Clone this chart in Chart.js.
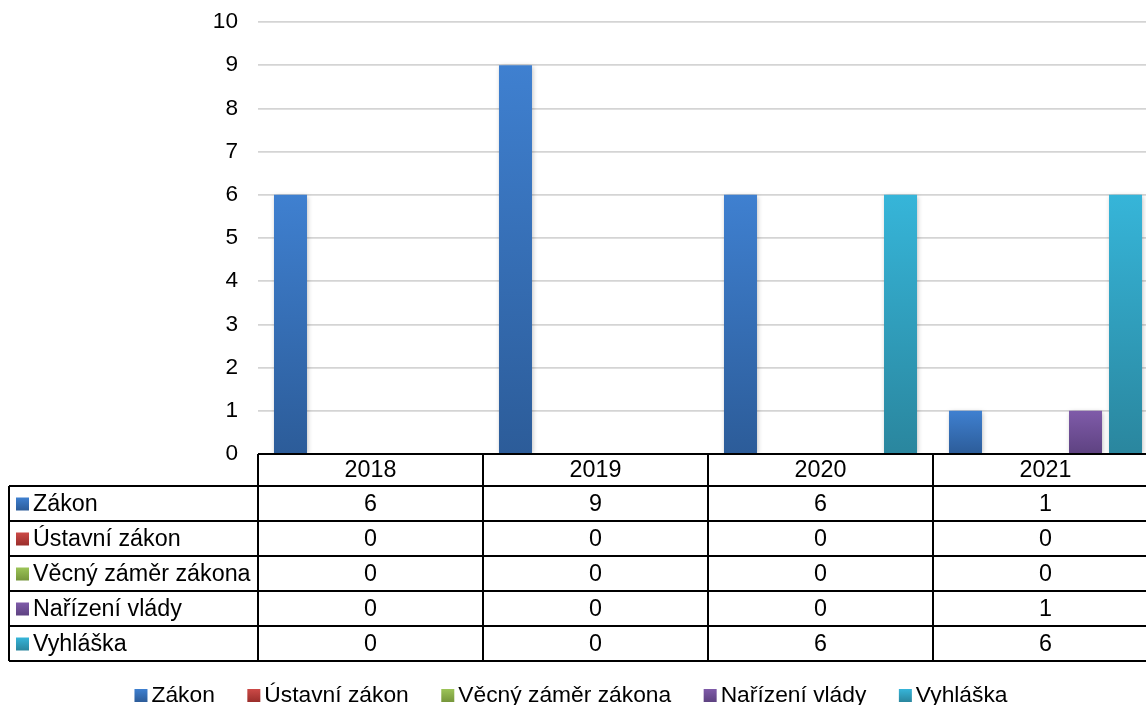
<!DOCTYPE html>
<html>
<head>
<meta charset="utf-8">
<script src="https://cdn.jsdelivr.net/npm/chart.js@4.4.0/dist/chart.umd.min.js"></script>
<style>
html, body { margin: 0; padding: 0; background: #fff; overflow: hidden; }
#wrap { width: 1160px; height: 705px; }
</style>
</head>
<body>
<div id="wrap"><canvas id="graf"></canvas></div>
<script>
// Data
var roky = ["2018", "2019", "2020", "2021"];
var nazvy = ["Zákon", "Ústavní zákon", "Věcný záměr zákona", "Nařízení vlády", "Vyhláška"];
var zakon = [6, 9, 6, 1];
var ustavniZakon = [0, 0, 0, 0];
var vecnyZamer = [0, 0, 0, 0];
var narizeniVlady = [0, 0, 0, 1];
var vyhlaska = [0, 0, 6, 6];
var yMin = 0, yMax = 10, yKrok = 1;

var barvyHorni = ["#3f80d0", "#cc4a47", "#9cc458", "#7f5ba9", "#36b5d9"];
var barvyDolni = ["#2c5c99", "#9a2e2b", "#76963b", "#5e4281", "#2a869e"];
var pismo = '"Liberation Sans", Arial, Helvetica, sans-serif';

// gradient pro kazdy sloupec zvlast
function prechod(i) {
    return function(c) {
        var chart = c.chart;
        if (c.type !== 'data' || !chart.chartArea) return barvyHorni[i];
        var y = chart.scales.y;
        var top = y.getPixelForValue(c.raw);
        var bot = y.getPixelForValue(0);
        if (bot - top < 1) return barvyHorni[i];
        var g = chart.ctx.createLinearGradient(0, top, 0, bot);
        g.addColorStop(0, barvyHorni[i]);
        g.addColorStop(1, barvyDolni[i]);
        return g;
    };
}

var hodnoty = [zakon, ustavniZakon, vecnyZamer, narizeniVlady, vyhlaska];
var datasets = nazvy.map(function(n, i) {
    return {
        label: n,
        data: hodnoty[i],
        backgroundColor: prechod(i),
        borderWidth: 0,
        categoryPercentage: 0.889,
        barPercentage: 0.825
    };
});

// stin pod sloupci
var stin = {
    id: 'stin',
    beforeDatasetsDraw: function(chart) {
        var ctx = chart.ctx;
        ctx.save();
        ctx.shadowColor = 'rgba(0,0,0,0.28)';
        ctx.shadowBlur = 5;
        ctx.shadowOffsetX = 1;
        ctx.shadowOffsetY = 1;
    },
    afterDatasetsDraw: function(chart) {
        chart.ctx.restore();
    }
};

// tabulka dat + legenda
var tabulka = {
    id: 'tabulka',
    afterDraw: function(chart) {
        var ctx = chart.ctx;
        var x = chart.scales.x;
        var area = chart.chartArea;
        var colW = x.width / roky.length;
        var top = area.bottom;
        var headH = 32, rowH = 35, left = 9;
        var bottom = top + headH + rowH * nazvy.length;

        ctx.save();
        ctx.strokeStyle = '#000';
        ctx.lineWidth = 2;
        ctx.beginPath();
        ctx.moveTo(area.left, top);
        ctx.lineTo(area.right, top);
        for (var r = 0; r <= nazvy.length; r++) {
            var yy = top + headH + r * rowH;
            ctx.moveTo(left, yy);
            ctx.lineTo(area.right, yy);
        }
        ctx.moveTo(left, top + headH);
        ctx.lineTo(left, bottom);
        for (var c = 0; c <= roky.length; c++) {
            var xx = area.left + c * colW;
            ctx.moveTo(xx, top);
            ctx.lineTo(xx, bottom);
        }
        ctx.stroke();

        ctx.fillStyle = '#000';
        ctx.font = '23.3px ' + pismo;
        ctx.textBaseline = 'middle';
        ctx.textAlign = 'center';
        for (c = 0; c < roky.length; c++) {
            ctx.fillText(roky[c], x.getPixelForValue(c), top + headH / 2 + 1);
        }
        chart.data.datasets.forEach(function(ds, r) {
            var cy = top + headH + r * rowH + rowH / 2;
            var g = ctx.createLinearGradient(0, cy - 6, 0, cy + 7);
            g.addColorStop(0, barvyHorni[r]);
            g.addColorStop(1, barvyDolni[r]);
            ctx.fillStyle = g;
            ctx.fillRect(16, cy - 6, 13, 13);
            ctx.fillStyle = '#000';
            ctx.textAlign = 'left';
            ctx.fillText(ds.label, 33, cy + 1);
            ctx.textAlign = 'center';
            for (var c2 = 0; c2 < roky.length; c2++) {
                ctx.fillText(String(ds.data[c2]), x.getPixelForValue(c2), cy + 1);
            }
        });

        // legenda
        ctx.font = '22.8px ' + pismo;
        var boxW = 13, mezera = 4, rozestup = 32.5, ly = 695;
        var sirky = nazvy.map(function(n) { return boxW + mezera + ctx.measureText(n).width; });
        var celkem = sirky.reduce(function(a, b) { return a + b; }, 0) + rozestup * (nazvy.length - 1);
        var lx = 571 - celkem / 2;
        ctx.textAlign = 'left';
        nazvy.forEach(function(n, i) {
            var g2 = ctx.createLinearGradient(0, ly - 6, 0, ly + 7);
            g2.addColorStop(0, barvyHorni[i]);
            g2.addColorStop(1, barvyDolni[i]);
            ctx.fillStyle = g2;
            ctx.fillRect(lx, ly - 6, boxW, 13);
            ctx.fillStyle = '#000';
            ctx.fillText(n, lx + boxW + mezera, ly + 1);
            lx += sirky[i] + rozestup;
        });
        ctx.restore();
    }
};

Chart.defaults.font.family = pismo;
Chart.defaults.font.size = 22.6;
Chart.defaults.color = '#000';

var graf = new Chart(document.getElementById('graf'), {
    type: 'bar',
    data: { labels: roky, datasets: datasets },
    options: {
        responsive: true,
        maintainAspectRatio: false,
        animation: false,
        layout: { padding: { top: 22, right: 2, left: 0, bottom: 0 } },
        plugins: {
            legend: { display: false },
            tooltip: { enabled: false }
        },
        scales: {
            x: {
                grid: { display: false },
                border: { display: false },
                ticks: { display: false },
                afterFit: function(s) { s.height = 251; }
            },
            y: {
                min: yMin,
                max: yMax,
                ticks: { stepSize: yKrok, padding: 20, color: '#000' },
                grid: { color: '#d4d4d4', lineWidth: 1.7, drawTicks: false },
                border: { display: false },
                afterFit: function(s) {
                    s.width = 258;
                    s.paddingTop = 0;
                    s.paddingBottom = 0;
                }
            }
        }
    },
    plugins: [stin, tabulka]
});
</script>
</body>
</html>
